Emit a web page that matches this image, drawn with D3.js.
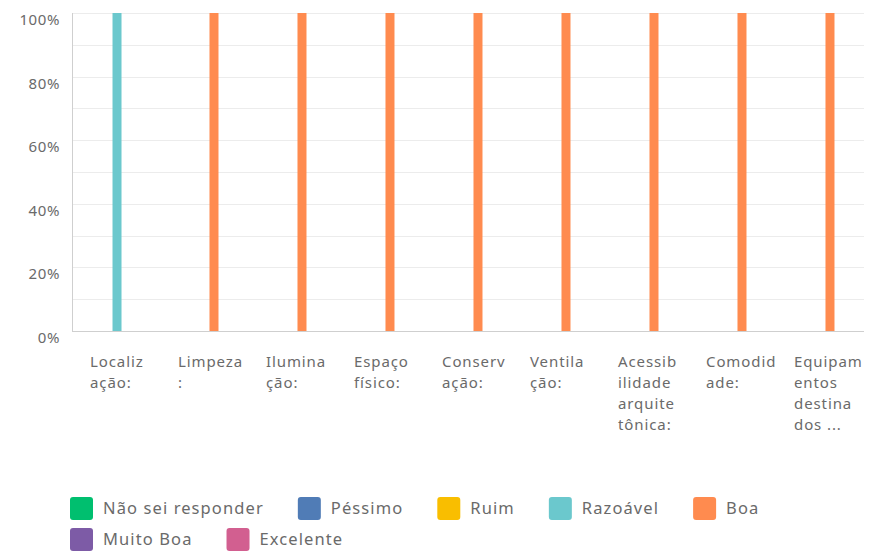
<!DOCTYPE html>
<html>
<head>
<meta charset="utf-8">
<script src="https://cdn.jsdelivr.net/npm/d3@7"></script>
<style>
  body { margin: 0; background: #fff; }
  text { font-family: "Noto Sans", "Open Sans", sans-serif; fill: #6a6a6a; }
</style>
</head>
<body>
<svg width="874" height="554"></svg>
<script>
var categories = ["Localização:", "Limpeza:", "Iluminação:", "Espaço físico:", "Conservação:",
                  "Ventilação:", "Acessibilidade arquitetônica:", "Comodidade:", "Equipamentos destinados ..."];

var catLabels = [["Localiz", "ação:"], ["Limpeza", ":"], ["Ilumina", "ção:"], ["Espaço", "físico:"],
                 ["Conserv", "ação:"], ["Ventila", "ção:"], ["Acessib", "ilidade", "arquite", "tônica:"],
                 ["Comodid", "ade:"], ["Equipam", "entos", "destina", "dos ..."]];

var seriesNames = ["Não sei responder", "Péssimo", "Ruim", "Razoável", "Boa", "Muito Boa", "Excelente"];
var seriesColors = ["#00bf6f", "#507cb6", "#f9be00", "#6bc8cd", "#ff8b4f", "#7d5ba6", "#d25f90"];

// percent per series, one value per category
var naoSei    = [0, 0, 0, 0, 0, 0, 0, 0, 0];
var pessimo   = [0, 0, 0, 0, 0, 0, 0, 0, 0];
var ruim      = [0, 0, 0, 0, 0, 0, 0, 0, 0];
var razoavel  = [100, 0, 0, 0, 0, 0, 0, 0, 0];
var boa       = [0, 100, 100, 100, 100, 100, 100, 100, 100];
var muitoBoa  = [0, 0, 0, 0, 0, 0, 0, 0, 0];
var excelente = [0, 0, 0, 0, 0, 0, 0, 0, 0];

var yTicks = [0, 20, 40, 60, 80, 100];

var seriesValues = [naoSei, pessimo, ruim, razoavel, boa, muitoBoa, excelente];

var svg = d3.select("svg"),
    pLeft = 72, pRight = 864, pTop = 13, pBottom = 331;

var x = d3.scaleBand()
    .domain(d3.range(categories.length))
    .range([pLeft + 1, pRight + 1]);

var xs = d3.scaleBand()
    .domain(d3.range(seriesNames.length))
    .range([0, x.bandwidth()])
    .paddingInner(0)
    .paddingOuter(1.4);

var y = d3.scaleLinear().domain([0, 100]).range([pBottom, pTop]);

// grid every 10%
svg.append("g").selectAll("line")
  .data(d3.range(10, 101, 10))
  .enter().append("line")
    .attr("x1", pLeft).attr("x2", pRight)
    .attr("y1", d => Math.round(y(d)) + 0.5).attr("y2", d => Math.round(y(d)) + 0.5)
    .attr("stroke", "#ececec");

// y labels
svg.append("g").selectAll("text")
  .data(yTicks)
  .enter().append("text")
    .attr("x", 60)
    .attr("y", d => y(d) + 12)
    .attr("text-anchor", "end")
    .style("font-size", "15px")
    .style("letter-spacing", "0.6px")
    .text(d => d + "%");

// bars
var groups = svg.append("g").selectAll("g")
  .data(categories)
  .enter().append("g")
    .attr("transform", (d, i) => "translate(" + x(i) + ",0)");

groups.selectAll("rect")
  .data((d, i) => seriesValues.map((s, k) => ({k: k, v: s[i]})))
  .enter().append("rect")
    .attr("x", d => xs(d.k))
    .attr("width", 9)
    .attr("y", d => y(d.v))
    .attr("height", d => y(0) - y(d.v))
    .attr("fill", d => seriesColors[d.k]);

// axes lines
svg.append("line")
  .attr("x1", pLeft + 0.5).attr("x2", pLeft + 0.5)
  .attr("y1", pTop).attr("y2", pBottom + 1)
  .attr("stroke", "#cfcfcf");
svg.append("line")
  .attr("x1", pLeft).attr("x2", pRight)
  .attr("y1", pBottom + 0.5).attr("y2", pBottom + 0.5)
  .attr("stroke", "#cfcfcf");

// category labels
groups.append("text")
  .style("font-size", "15px")
  .style("letter-spacing", "0.9px")
  .selectAll("tspan")
  .data((d, i) => catLabels[i])
  .enter().append("tspan")
    .attr("x", 17)
    .attr("y", (d, j) => 367 + j * 21)
    .text(d => d);

// legend
var legRows = [[0, 1, 2, 3, 4], [5, 6]];
legRows.forEach(function (row, r) {
  var cx = 70;
  row.forEach(function (k) {
    var g = svg.append("g").attr("transform", "translate(" + cx + "," + (497 + r * 31) + ")");
    g.append("rect")
      .attr("width", 23).attr("height", 23).attr("rx", 3)
      .attr("fill", seriesColors[k]);
    var t = g.append("text")
      .attr("x", 33).attr("y", 17)
      .style("font-size", "16.5px")
      .style("letter-spacing", "1.1px")
      .text(seriesNames[k]);
    cx += 33 + t.node().getComputedTextLength() + 34;
  });
});
</script>
</body>
</html>
